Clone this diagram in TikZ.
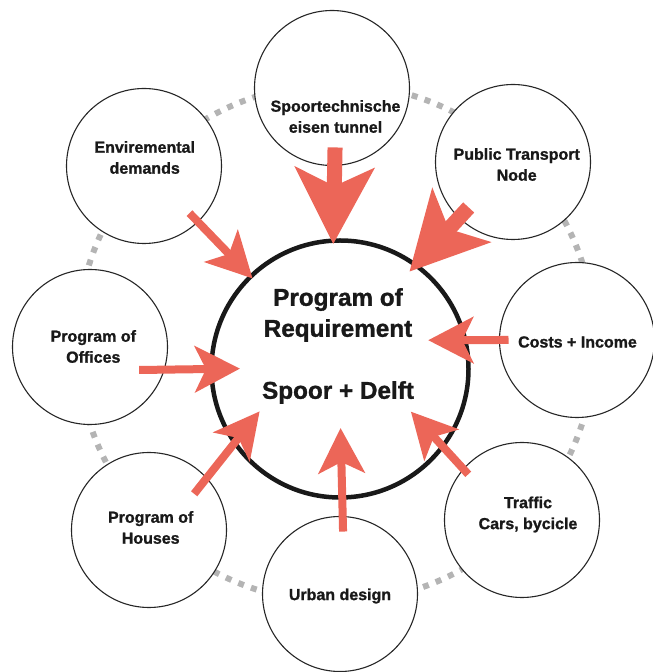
\documentclass[tikz,border=0pt]{standalone}
\usepackage{fontspec}
\setmainfont{Liberation Sans}[BoldFeatures={FakeBold=1.2}]
\usetikzlibrary{arrows.meta}

\definecolor{rouge}{RGB}{236,102,88}
\definecolor{gristrait}{RGB}{180,180,180}

\begin{document}
\begin{tikzpicture}[x=1pt, y=1pt,
    bulle/.style={circle, draw=black!85, line width=1.1pt, fill=white, minimum size=155pt, inner sep=0pt, outer sep=0pt},
    texte/.style={align=center, font=\bfseries\fontsize{16}{21}\selectfont, text=black!90},
    centre/.style={align=center, font=\bfseries\fontsize{24.3}{31}\selectfont, text=black!90},
    fleche/.style={draw=rouge, line width=8pt, -{Stealth[length=45pt, width=46pt, inset=11pt]}},
    grosse/.style={draw=rouge, line width=15pt, -{Stealth[length=76pt, width=78pt, inset=18pt]}}]
    \useasboundingbox (0,0) rectangle (653,672);

    % Anneau pointille
    \draw[gristrait, line width=6pt, dash pattern=on 6pt off 7.5pt] (336,329) circle (259pt);

    % Cercles exterieurs
    \node[bulle] (spoor) at (332,584) {};
    \node[bulle] (env) at (144,506) {};
    \node[bulle] (pt) at (513,510) {};
    \node[bulle] (costs) at (577,332) {};
    \node[bulle] (traffic) at (522,152) {};
    \node[bulle] (urban) at (340,78) {};
    \node[bulle] (houses) at (149,142) {};
    \node[bulle] (offices) at (90,325) {};

    % Cercle central
    \node[circle, draw=black!90, line width=4.5pt, fill=white, minimum size=257pt, outer sep=0pt] (req) at (340,303) {};

    % Fleches vers le centre
    \draw[fleche, shorten <=-12pt, shorten >=-2.6pt] (env.-46) -- (req.134);
    \draw[grosse, shorten <=-18pt, shorten >=-3.5pt] (spoor.-88) -- (req.93);
    \draw[grosse, shorten <=-14pt, shorten >=-9pt] (pt.226) -- (req.54);
    \draw[fleche, shorten <=-9pt, shorten >=-37pt] (costs.180) -- (req.13);
    \draw[fleche, shorten <=-7pt, shorten >=-47pt] (traffic.139) -- (req.-37);
    \draw[fleche, shorten <=-15pt, shorten >=-69.5pt] (urban.88) -- (req.-89);
    \draw[fleche, shorten <=-20pt, shorten >=-40pt] (houses.42) -- (req.215);
    \draw[fleche, shorten <=-25pt, shorten >=-28.5pt] (offices.-17) -- (req.180);

    % Textes
    \node[texte] (spoor-txt) at (335.5,555.5) {Spoortechnische\\eisen tunnel};
    \node[texte] (env-txt) at (144.7,514.5) {Enviremental\\demands};
    \node[texte] (pt-txt) at (516.7,507.5) {Public Transport\\Node};
    \node[texte] (costs-txt) at (577.5,330) {Costs + Income};
    \node[texte] (traffic-txt) at (528,157.5) {Traffic\\Cars, bycicle};
    \node[texte] (urban-txt) at (340,76) {Urban design};
    \node[texte] (houses-txt) at (150.7,144.5) {Program of\\Houses};
    \node[texte] (offices-txt) at (93.3,325.5) {Program of\\Offices};
    \node[centre] (req-txt) at (338,326) {Program of\\Requirement\\[31pt]Spoor + Delft};
\end{tikzpicture}
\end{document}
